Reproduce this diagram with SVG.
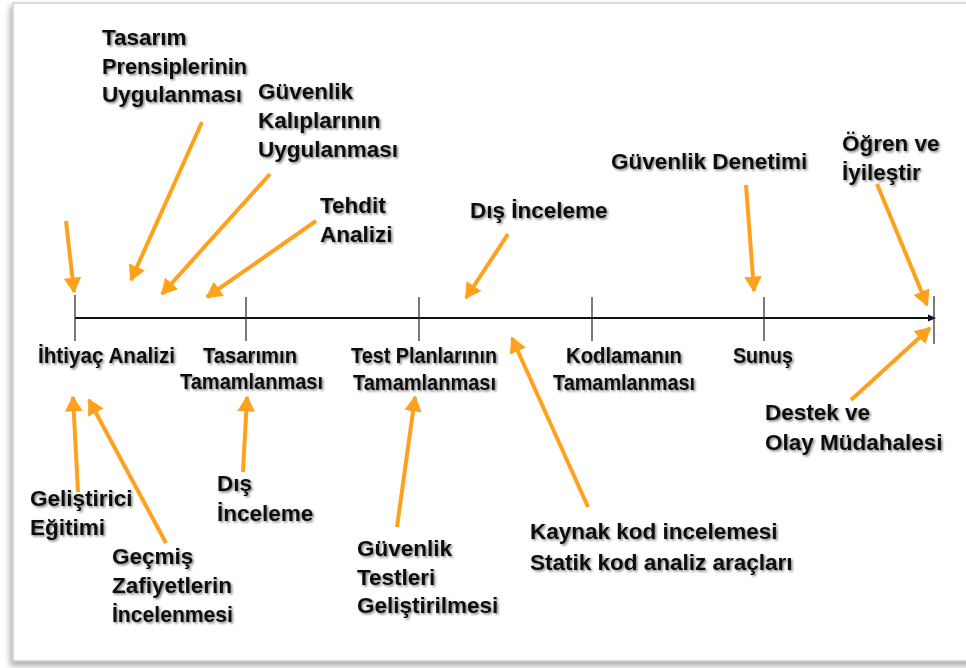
<svg xmlns="http://www.w3.org/2000/svg" width="966" height="668" viewBox="0 0 966 668">
<defs>
<filter id="sh" x="-10%" y="-10%" width="130%" height="130%">
<feGaussianBlur in="SourceGraphic" stdDeviation="3"/>
</filter>
<filter id="ts" x="-5%" y="-20%" width="115%" height="150%">
<feDropShadow dx="1.5" dy="1.5" stdDeviation="1.2" flood-color="#000" flood-opacity="0.5"/>
</filter>
<marker id="oa" markerWidth="4.2" markerHeight="4.4" refX="3.6" refY="2.2" orient="auto" markerUnits="strokeWidth">
<path d="M0,0 L4,2.2 L0,4.4 z" fill="#FFA11C"/>
</marker>
<marker id="ba" markerWidth="8" markerHeight="8" refX="7" refY="4" orient="auto" markerUnits="userSpaceOnUse">
<path d="M0,0.5 L8,4 L0,7.5 z" fill="#111"/>
</marker>
<style>
text{font-family:"Liberation Sans",Arial,sans-serif;font-weight:bold;font-size:22.5px;fill:#111;filter:url(#ts)}
.arr line{stroke:#FFA11C;stroke-width:4;marker-end:url(#oa)}
.tick{stroke:#333;stroke-width:1.3}
</style>
</defs>
<rect width="966" height="668" fill="#fff"/>
<rect x="10" y="6" width="970" height="660" fill="#777" filter="url(#sh)" opacity="0.6"/>
<rect x="13" y="3" width="960" height="658" fill="#fff" stroke="#cfcfcf" stroke-width="1.5"/>

<g id="timeline">
<line x1="75" y1="318" x2="935" y2="318" stroke="#111" stroke-width="2" marker-end="url(#ba)"/>
<line class="tick" x1="75" y1="295" x2="75" y2="341"/>
<line class="tick" x1="246" y1="297" x2="246" y2="341"/>
<line class="tick" x1="419" y1="297" x2="419" y2="341"/>
<line class="tick" x1="592" y1="297" x2="592" y2="341"/>
<line class="tick" x1="764" y1="297" x2="764" y2="341"/>
<line class="tick" x1="934" y1="296" x2="934" y2="344"/>
</g>

<g id="connectors" class="arr">
<line x1="66" y1="221" x2="74" y2="292"/>
<line x1="202" y1="122" x2="131" y2="280"/>
<line x1="270" y1="174" x2="162" y2="294"/>
<line x1="316" y1="221" x2="207" y2="297"/>
<line x1="508" y1="234" x2="466" y2="298"/>
<line x1="746" y1="185" x2="754" y2="291"/>
<line x1="877" y1="184" x2="927" y2="305"/>
<line x1="851" y1="400" x2="930" y2="328"/>
<line x1="78" y1="492" x2="73" y2="397"/>
<line x1="166" y1="543" x2="89" y2="400"/>
<line x1="243" y1="472" x2="247" y2="397"/>
<line x1="397" y1="527" x2="415" y2="397"/>
<line x1="588" y1="507" x2="512" y2="338"/>
</g>

<g id="n-ihtiyac"><text x="38" y="363" textLength="137" lengthAdjust="spacingAndGlyphs">İhtiyaç Analizi</text></g>
<g id="n-tasarimin"><text x="203" y="363" textLength="94" lengthAdjust="spacingAndGlyphs">Tasarımın</text><text x="180" y="389" textLength="143" lengthAdjust="spacingAndGlyphs">Tamamlanması</text></g>
<g id="n-testplan"><text x="351" y="363" textLength="146" lengthAdjust="spacingAndGlyphs">Test Planlarının</text><text x="353" y="390" textLength="143" lengthAdjust="spacingAndGlyphs">Tamamlanması</text></g>
<g id="n-kodlama"><text x="566" y="363" textLength="116" lengthAdjust="spacingAndGlyphs">Kodlamanın</text><text x="553" y="390" textLength="142" lengthAdjust="spacingAndGlyphs">Tamamlanması</text></g>
<g id="n-sunus"><text x="733" y="363" textLength="60" lengthAdjust="spacingAndGlyphs">Sunuş</text></g>

<g id="n-tasarim-prensip"><text x="102" y="45">Tasarım</text><text x="102" y="74" textLength="145" lengthAdjust="spacingAndGlyphs">Prensiplerinin</text><text x="102" y="102">Uygulanması</text></g>
<g id="n-guvenlik-kalip"><text x="258" y="99">Güvenlik</text><text x="258" y="128">Kalıplarının</text><text x="258" y="157">Uygulanması</text></g>
<g id="n-tehdit"><text x="320" y="213">Tehdit</text><text x="320" y="242">Analizi</text></g>
<g id="n-dis-ust"><text x="470" y="218">Dış İnceleme</text></g>
<g id="n-denetim"><text x="611" y="169">Güvenlik Denetimi</text></g>
<g id="n-ogren"><text x="842" y="151">Öğren ve</text><text x="842" y="180">İyileştir</text></g>
<g id="n-destek"><text x="765" y="420">Destek ve</text><text x="765" y="450">Olay Müdahalesi</text></g>
<g id="n-gelistirici"><text x="30" y="506">Geliştirici</text><text x="30" y="535">Eğitimi</text></g>
<g id="n-gecmis"><text x="112" y="564">Geçmiş</text><text x="112" y="593">Zafiyetlerin</text><text x="112" y="622" textLength="121" lengthAdjust="spacingAndGlyphs">İncelenmesi</text></g>
<g id="n-dis-alt"><text x="217" y="491">Dış</text><text x="217" y="521">İnceleme</text></g>
<g id="n-guvenlik-test"><text x="357" y="556">Güvenlik</text><text x="357" y="585">Testleri</text><text x="357" y="613">Geliştirilmesi</text></g>
<g id="n-kaynak"><text x="530" y="539">Kaynak kod incelemesi</text><text x="530" y="570">Statik kod analiz araçları</text></g>
</svg>
